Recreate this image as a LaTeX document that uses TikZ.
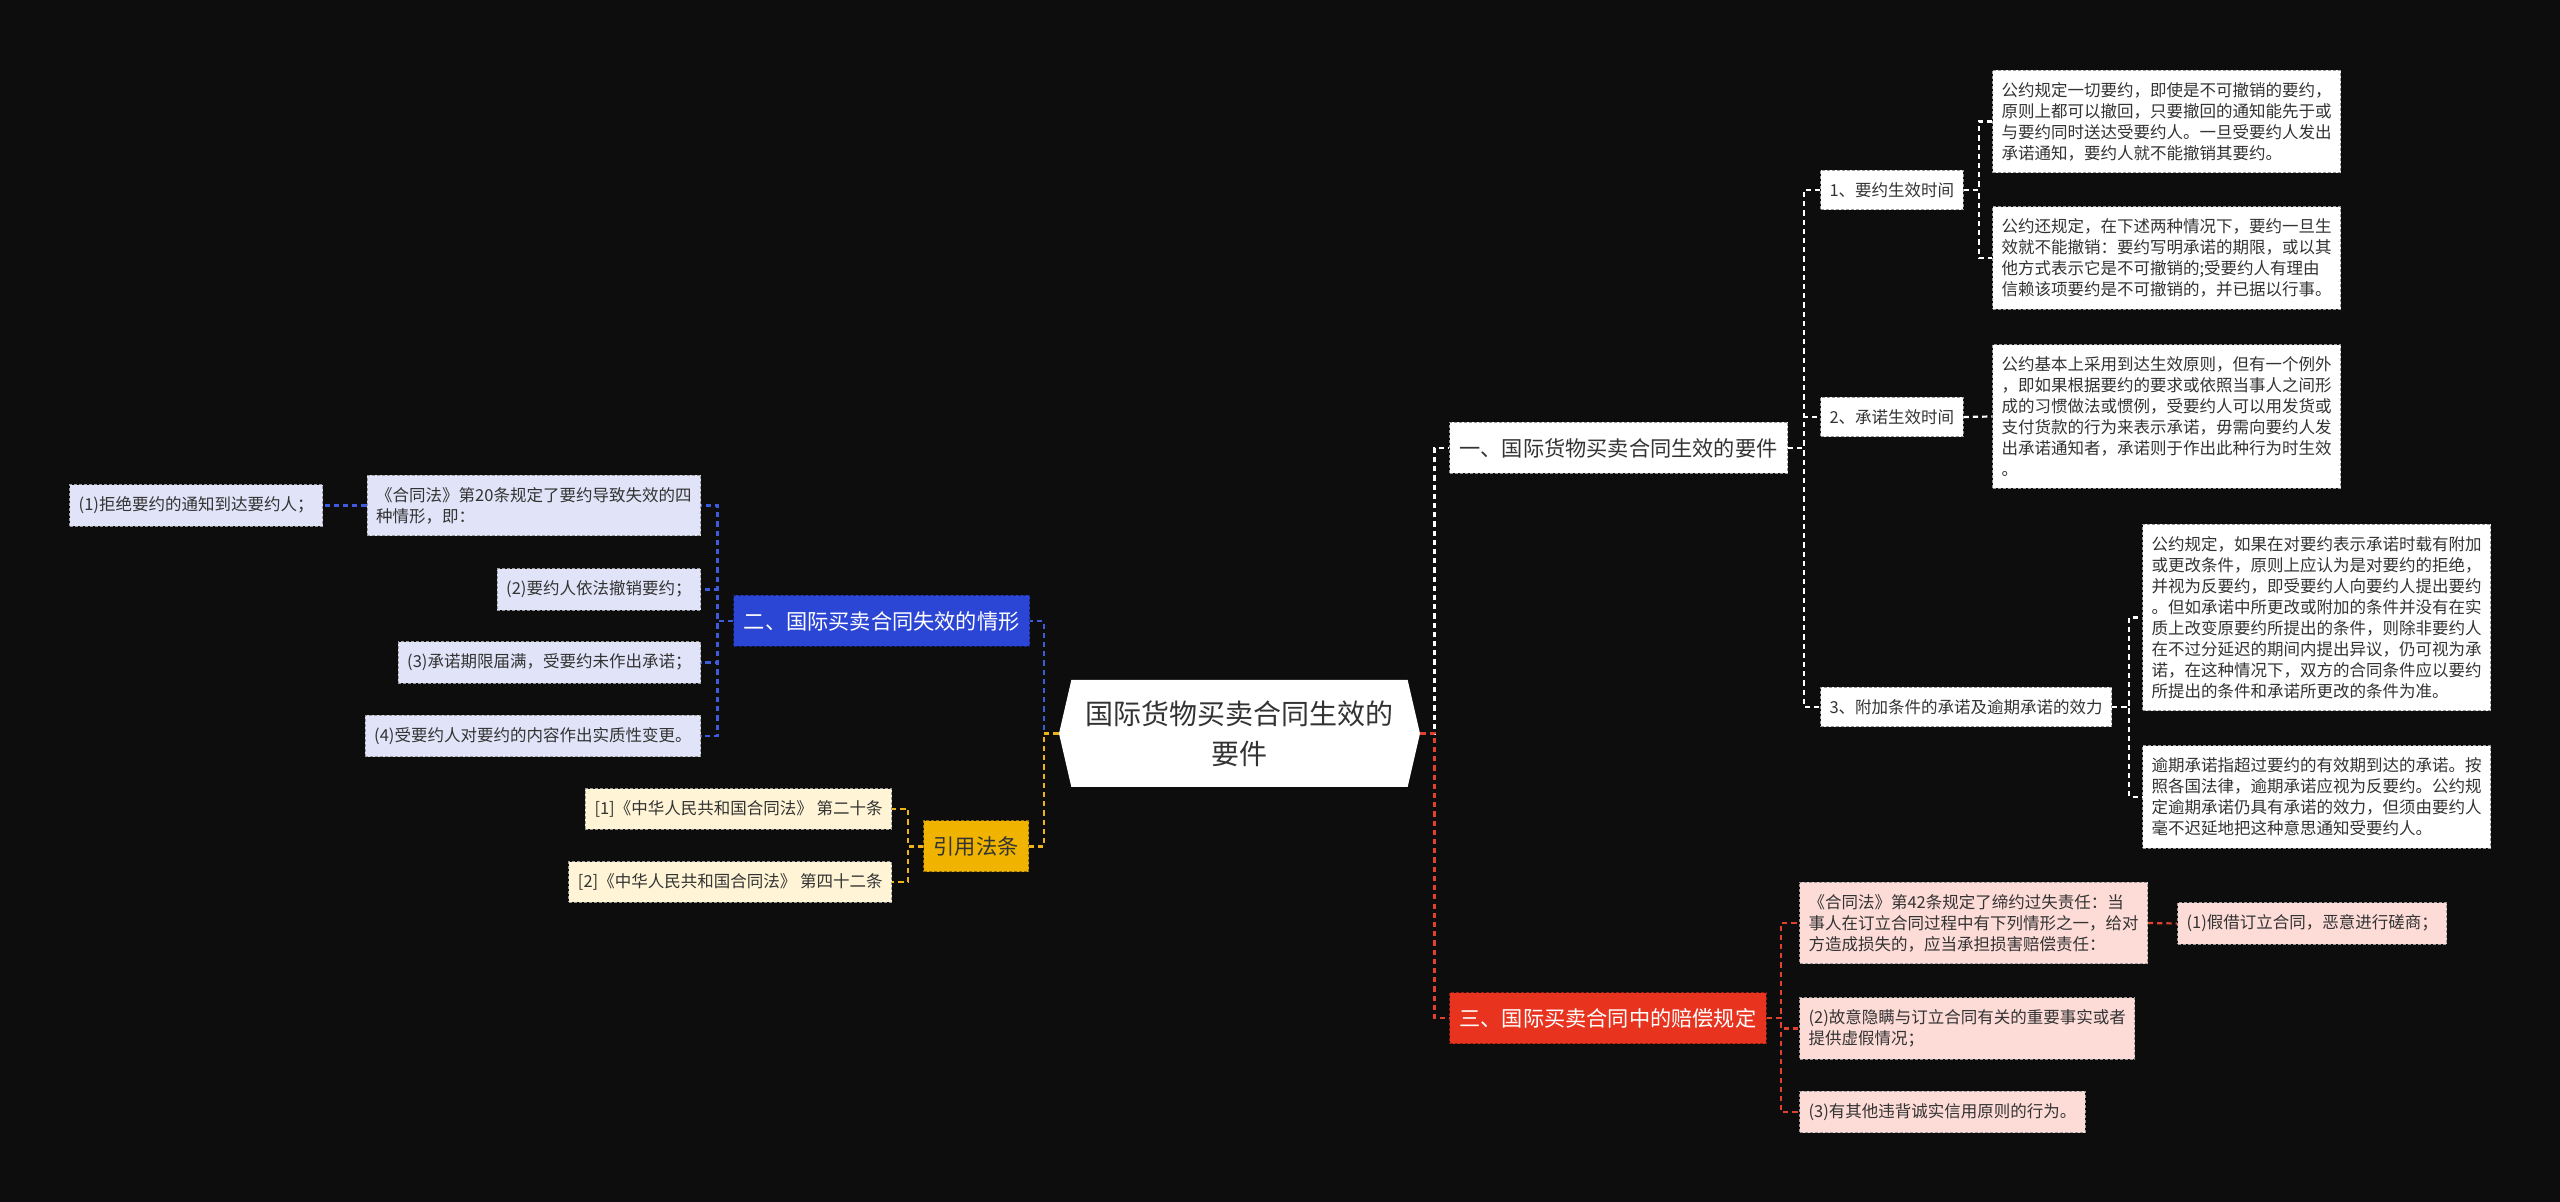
\documentclass[tikz,border=0pt]{standalone}
\usepackage{fontspec}
\setmainfont{Noto Sans CJK SC}
\usetikzlibrary{shapes.symbols}

\definecolor{bgdark}{HTML}{0D0D0D}
\definecolor{inkgray}{HTML}{333333}
\definecolor{bluemain}{HTML}{2B46D4}
\definecolor{blueleaf}{HTML}{E1E4F8}
\definecolor{bluelink}{HTML}{3D5BDB}
\definecolor{redmain}{HTML}{E8331F}
\definecolor{redleaf}{HTML}{FDDCD8}
\definecolor{redlink}{HTML}{E2412F}
\definecolor{goldmain}{HTML}{EFB300}
\definecolor{goldleaf}{HTML}{FFF4D5}
\definecolor{goldlink}{HTML}{EDB41A}

\begin{document}
\begin{tikzpicture}[
    x=0.5pt, y=-0.5pt,
    root/.style={signal, signal to=west and east, signal pointer angle=154, fill=white, minimum width=180.5pt, minimum height=53.5pt, inner sep=0pt, align=center, font=\fontsize{14}{20}\selectfont, text=inkgray},
    topic/.style={dash pattern=on 1.5pt off 1pt, line width=0.5pt, minimum height=25.5pt, inner xsep=5pt, font=\fontsize{10.6}{13}\selectfont},
    leaf/.style={draw=black!40, dash pattern=on 1.5pt off 1pt, line width=0.5pt, minimum height=19pt, inner xsep=4.5pt, inner ysep=6pt, align=left, font=\fontsize{8.25}{10.5}\selectfont, text=inkgray},
    link/.style={line width=1.1pt, dash pattern=on 2.6pt off 2pt}
]
    \fill[bgdark] (0,0) rectangle (2560,1202);

    \node[root] (root) at (1239.5,733.5) {国际货物买卖合同生效的\\要件};

    % first level
    \node[topic, anchor=west, fill=white, draw=black!40, text=inkgray] (effect) at (1449,448) {一、国际货物买卖合同生效的要件};
    \node[topic, anchor=east, fill=bluemain, draw=bluemain!55!black, text=white] (lapse) at (1030,621) {二、国际买卖合同失效的情形};
    \node[topic, anchor=west, fill=redmain, draw=redmain!60!black, text=white] (liability) at (1449,1018) {三、国际买卖合同中的赔偿规定};
    \node[topic, anchor=east, fill=goldmain, draw=goldmain!60!black, text=inkgray] (statutes) at (1029,846.5) {引用法条};

    % branch one
    \node[leaf, anchor=west, fill=white] (offer) at (1820,190) {1、要约生效时间};
    \node[leaf, anchor=west, fill=white] (accept) at (1820,417) {2、承诺生效时间};
    \node[leaf, anchor=west, fill=white] (cond) at (1820,707) {3、附加条件的承诺及逾期承诺的效力};

    \node[leaf, anchor=west, fill=white] (offerA) at (1992,121.5) {公约规定一切要约，即使是不可撤销的要约，\\原则上都可以撤回，只要撤回的通知能先于或\\与要约同时送达受要约人。一旦受要约人发出\\承诺通知，要约人就不能撤销其要约。};
    \node[leaf, anchor=west, fill=white] (offerB) at (1992,258) {公约还规定，在下述两种情况下，要约一旦生\\效就不能撤销：要约写明承诺的期限，或以其\\他方式表示它是不可撤销的;受要约人有理由\\信赖该项要约是不可撤销的，并已据以行事。};
    \node[leaf, anchor=west, fill=white] (acceptA) at (1992,416.5) {公约基本上采用到达生效原则，但有一个例外\\，即如果根据要约的要求或依照当事人之间形\\成的习惯做法或惯例，受要约人可以用发货或\\支付货款的行为来表示承诺，毋需向要约人发\\出承诺通知者，承诺则于作出此种行为时生效\\。};
    \node[leaf, anchor=west, fill=white] (condA) at (2142,617.5) {公约规定，如果在对要约表示承诺时载有附加\\或更改条件，原则上应认为是对要约的拒绝，\\并视为反要约，即受要约人向要约人提出要约\\。但如承诺中所更改或附加的条件并没有在实\\质上改变原要约所提出的条件，则除非要约人\\在不过分延迟的期间内提出异议，仍可视为承\\诺，在这种情况下，双方的合同条件应以要约\\所提出的条件和承诺所更改的条件为准。};
    \node[leaf, anchor=west, fill=white] (condB) at (2142,797) {逾期承诺指超过要约的有效期到达的承诺。按\\照各国法律，逾期承诺应视为反要约。公约规\\定逾期承诺仍具有承诺的效力，但须由要约人\\毫不迟延地把这种意思通知受要约人。};

    % branch three
    \node[leaf, anchor=west, fill=redleaf] (fault) at (1799,923) {《合同法》第42条规定了缔约过失责任：当\\事人在订立合同过程中有下列情形之一，给对\\方造成损失的，应当承担损害赔偿责任：};
    \node[leaf, anchor=west, fill=redleaf] (faultA) at (2177,923.5) {(1)假借订立合同，恶意进行磋商；};
    \node[leaf, anchor=west, fill=redleaf] (conceal) at (1799,1028.5) {(2)故意隐瞒与订立合同有关的重要事实或者\\提供虚假情况；};
    \node[leaf, anchor=west, fill=redleaf] (breach) at (1799,1112) {(3)有其他违背诚实信用原则的行为。};

    % branch two
    \node[leaf, anchor=east, fill=blueleaf] (art20) at (701,505.5) {《合同法》第20条规定了要约导致失效的四\\种情形，即：};
    \node[leaf, anchor=east, fill=blueleaf] (reject) at (323,505.5) {(1)拒绝要约的通知到达要约人；};
    \node[leaf, anchor=east, fill=blueleaf] (revoke) at (701,589.5) {(2)要约人依法撤销要约；};
    \node[leaf, anchor=east, fill=blueleaf] (expire) at (701,662.5) {(3)承诺期限届满，受要约未作出承诺；};
    \node[leaf, anchor=east, fill=blueleaf] (alter) at (701,736) {(4)受要约人对要约的内容作出实质性变更。};

    % cited statutes
    \node[leaf, anchor=east, fill=goldleaf] (lawA) at (892,809) {[1]《中华人民共和国合同法》 第二十条};
    \node[leaf, anchor=east, fill=goldleaf] (lawB) at (892,882) {[2]《中华人民共和国合同法》 第四十二条};

    % connectors
    \draw[link, white] (root.east) -- ++(14,0) |- (effect.west);
    \draw[link, redlink] (root.east) -- ++(14,0) |- (liability.west);
    \draw[link, bluelink] (root.west) -- ++(-15,0) |- (lapse.east);
    \draw[link, goldlink] (root.west) -- ++(-15,0) |- (statutes.east);

    \draw[link, white] (effect.east) -- ++(16,0) |- (offer.west);
    \draw[link, white] (effect.east) -- ++(16,0) |- (accept.west);
    \draw[link, white] (effect.east) -- ++(16,0) |- (cond.west);
    \draw[link, white] (offer.east) -- ++(15,0) |- (offerA.west);
    \draw[link, white] (offer.east) -- ++(15,0) |- (offerB.west);
    \draw[link, white] (accept.east) -- (acceptA.west);
    \draw[link, white] (cond.east) -- ++(17,0) |- (condA.west);
    \draw[link, white] (cond.east) -- ++(17,0) |- (condB.west);

    \draw[link, redlink] (liability.east) -- ++(14,0) |- (fault.west);
    \draw[link, redlink] (liability.east) -- ++(14,0) |- (conceal.west);
    \draw[link, redlink] (liability.east) -- ++(14,0) |- (breach.west);
    \draw[link, redlink] (fault.east) -- (faultA.west);

    \draw[link, bluelink] (lapse.west) -- ++(-16,0) |- (art20.east);
    \draw[link, bluelink] (lapse.west) -- ++(-16,0) |- (revoke.east);
    \draw[link, bluelink] (lapse.west) -- ++(-16,0) |- (expire.east);
    \draw[link, bluelink] (lapse.west) -- ++(-16,0) |- (alter.east);
    \draw[link, bluelink] (art20.west) -- (reject.east);

    \draw[link, goldlink] (statutes.west) -- ++(-15,0) |- (lawA.east);
    \draw[link, goldlink] (statutes.west) -- ++(-15,0) |- (lawB.east);
\end{tikzpicture}
\end{document}
